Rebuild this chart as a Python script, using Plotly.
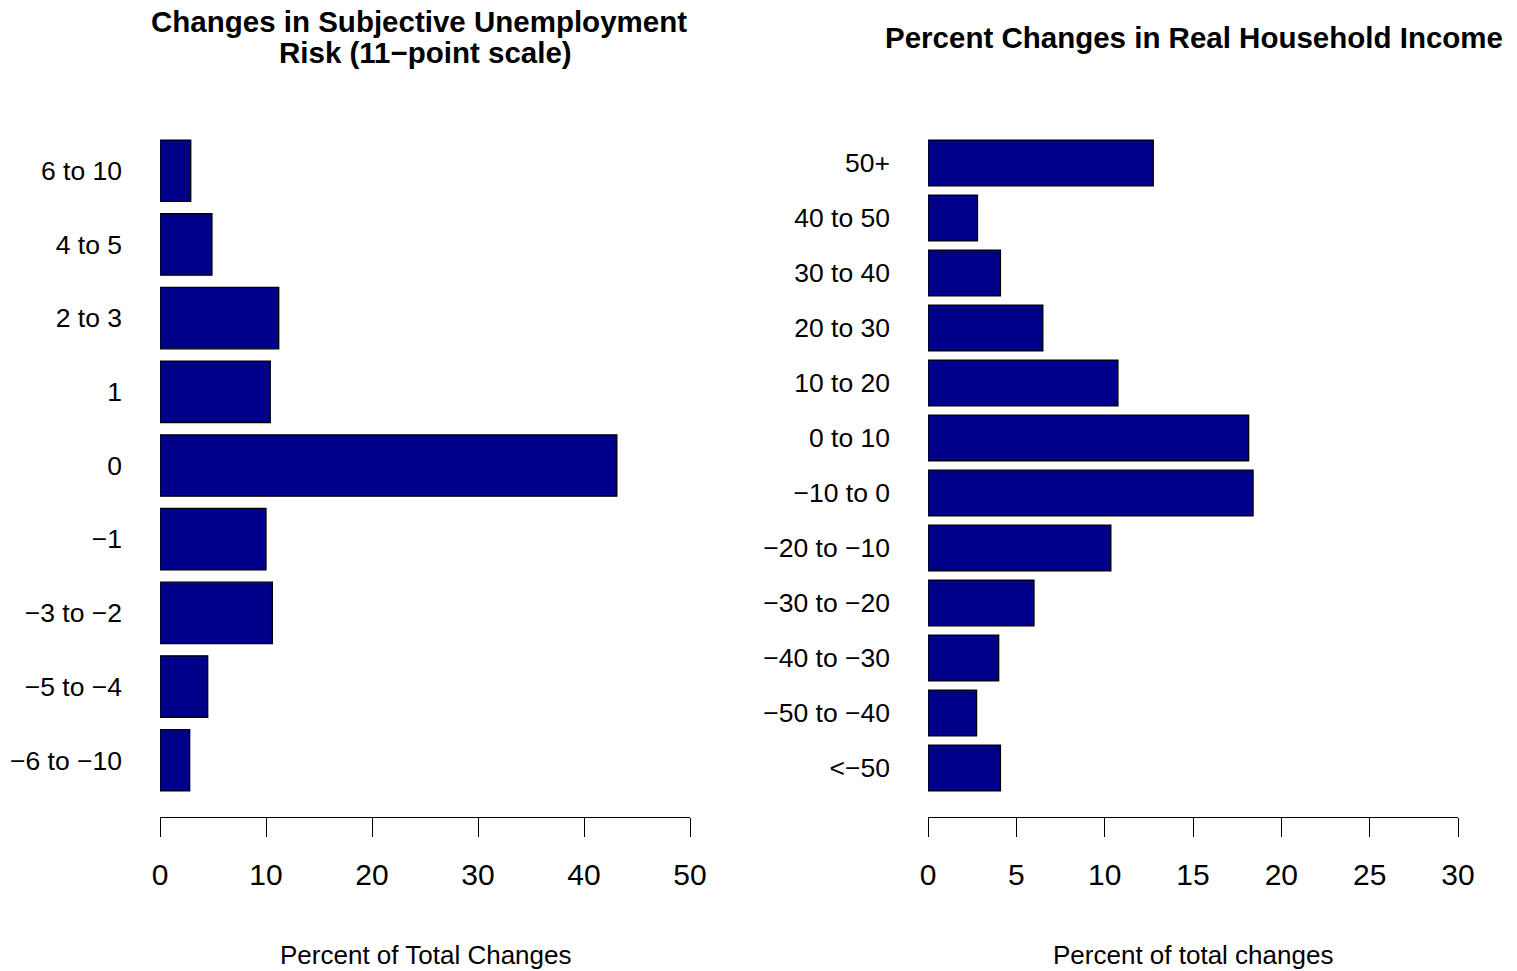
import plotly.graph_objects as go

# Subjective unemployment risk changes (11-point scale)
risk_labels = ["−6 to −10", "−5 to −4", "−3 to −2", "−1", "0", "1", "2 to 3", "4 to 5", "6 to 10"]
risk_pct = [2.8, 4.5, 10.6, 10.0, 43.1, 10.4, 11.2, 4.9, 2.9]

# Percent changes in real household income
income_labels = ["<−50", "−50 to −40", "−40 to −30", "−30 to −20", "−20 to −10", "−10 to 0",
                 "0 to 10", "10 to 20", "20 to 30", "30 to 40", "40 to 50", "50+"]
income_pct = [4.1, 2.75, 4.0, 6.0, 10.35, 18.4, 18.15, 10.75, 6.5, 4.1, 2.8, 12.75]

risk_ticks = [0, 10, 20, 30, 40, 50]
income_ticks = [0, 5, 10, 15, 20, 25, 30]

W, H = 1517, 971
FONT = "Liberation Sans, Arial, Helvetica, sans-serif"
BAR_FILL = "#00008B"


def px_x(p):
    return p / W


def px_y(p):
    return 1 - p / H


fig = go.Figure()
fig.add_trace(go.Bar(x=risk_pct, y=risk_labels, orientation="h", xaxis="x", yaxis="y",
                     marker=dict(color=BAR_FILL, line=dict(color="black", width=1.3))))
fig.add_trace(go.Bar(x=income_pct, y=income_labels, orientation="h", xaxis="x2", yaxis="y2",
                     marker=dict(color=BAR_FILL, line=dict(color="black", width=1.3))))

y_dom = [px_y(817), px_y(114)]
xaxis_common = dict(showgrid=False, zeroline=False, showline=True, linecolor="black", linewidth=1.3,
                    ticks="outside", ticklen=19, tickwidth=1.3, tickcolor="black", automargin=False,
                    tickfont=dict(size=30, color="black", family=FONT), ticklabelstandoff=12)
yaxis_common = dict(showgrid=False, zeroline=False, showline=False, ticks="", automargin=False,
                    tickfont=dict(size=26.5, color="black", family=FONT), ticklabelstandoff=37,
                    type="category")

pad_l = 0.04 * 10.6 / 1.2
pad_r = 0.04 * 14.2 / 1.2
bh = 0.5 / 1.2

fig.update_layout(
    width=W, height=H,
    margin=dict(l=0, r=0, t=0, b=0),
    paper_bgcolor="white", plot_bgcolor="white",
    showlegend=False, bargap=1 - 1 / 1.2,
    font=dict(family=FONT, color="black"),
    xaxis=dict(domain=[px_x(160), px_x(690)], range=[0, 50], tickvals=risk_ticks,
               anchor="y", **xaxis_common),
    yaxis=dict(domain=y_dom, range=[-bh - pad_l, len(risk_labels) - 1 + bh + pad_l],
               anchor="x", **yaxis_common),
    xaxis2=dict(domain=[px_x(928), px_x(1458)], range=[0, 30], tickvals=income_ticks,
                anchor="y2", **xaxis_common),
    yaxis2=dict(domain=y_dom, range=[-bh - pad_r, len(income_labels) - 1 + bh + pad_r],
                anchor="x2", **yaxis_common),
)

annotations = [
    dict(text="<b>Changes in Subjective Unemployment</b>", x=px_x(419), y=px_y(21), font=dict(size=29.5)),
    dict(text="<b>Risk (11−point scale)</b>", x=px_x(425), y=px_y(53), font=dict(size=29.5)),
    dict(text="<b>Percent Changes in Real Household Income</b>",
         x=px_x(1194), y=px_y(38), font=dict(size=29.5)),
    dict(text="Percent of Total Changes", x=px_x(425), y=px_y(955), font=dict(size=26)),
    dict(text="Percent of total changes", x=px_x(1193), y=px_y(955), font=dict(size=26)),
]
for a in annotations:
    fig.add_annotation(xref="paper", yref="paper", showarrow=False, xanchor="center",
                       yanchor="middle", **a)

fig.write_html("out.html")
